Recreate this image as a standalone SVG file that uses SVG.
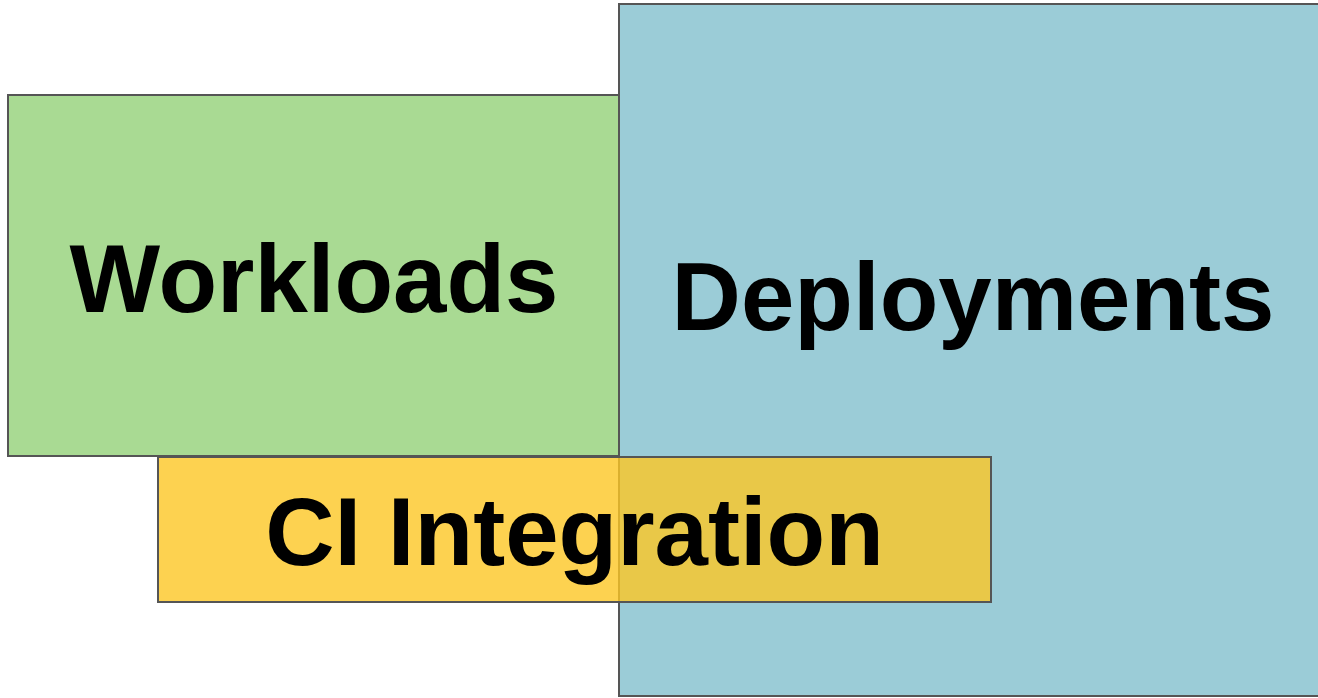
<svg xmlns="http://www.w3.org/2000/svg" width="1318" height="698" viewBox="0 0 1318 698">
  <style>
    .box { stroke: #555555; stroke-width: 2; }
    .label { font-family: "Liberation Sans", Arial, sans-serif; font-weight: bold; font-size: 96px; fill: #000000; text-anchor: middle; }
  </style>
  <rect x="0" y="0" width="1318" height="698" fill="#ffffff"/>
  <g id="workloads">
    <rect class="box" x="8" y="95" width="611" height="361" fill="#A9DA93"/>
    <text class="label" x="314" y="312">Workloads</text>
  </g>
  <g id="deployments">
    <rect class="box" x="619" y="4" width="710" height="692" fill="#9BCCD7"/>
    <text class="label" x="973" y="330">Deployments</text>
  </g>
  <g id="ci-integration">
    <rect class="box" x="158" y="457" width="833" height="145" fill="#FCC724" fill-opacity="0.8"/>
    <text class="label" x="574.5" y="565">CI Integration</text>
  </g>
  <g id="connectors"/>
</svg>
